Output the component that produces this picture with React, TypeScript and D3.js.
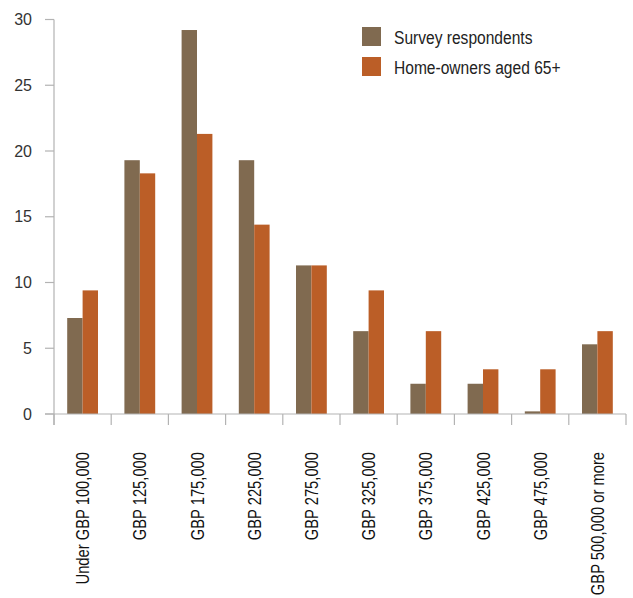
import React from "react";
import * as d3 from "d3";

// Property value bands and the share (%) of each group falling in them
const categories = [
  "Under GBP 100,000",
  "GBP 125,000",
  "GBP 175,000",
  "GBP 225,000",
  "GBP 275,000",
  "GBP 325,000",
  "GBP 375,000",
  "GBP 425,000",
  "GBP 475,000",
  "GBP 500,000 or more",
];
const surveyRespondents = [7.3, 19.3, 29.2, 19.3, 11.3, 6.3, 2.3, 2.3, 0.2, 5.3];
const homeOwners65 = [9.4, 18.3, 21.3, 14.4, 11.3, 9.4, 6.3, 3.4, 3.4, 6.3];
const seriesNames = ["Survey respondents", "Home-owners aged 65+"];
const yTicks = [0, 5, 10, 15, 20, 25, 30];

const W = 633;
const H = 598;
const colors = ["#806a50", "#bb5e27"];
const axisColor = "#b3b3b3";
const sans = "'Liberation Sans', Arial, sans-serif";
// horizontal squeeze giving a condensed grotesque look
const squeeze = 0.82;

export default function App() {
  const x = d3.scaleBand<string>().domain(categories).range([54, 626]).padding(0);
  const y = d3.scaleLinear().domain([0, 30]).range([414, 19.5]);
  const barW = 15.4;
  const series = [surveyRespondents, homeOwners65];

  return (
    <svg
      width={W}
      height={H}
      style={{ position: "absolute", left: 0, top: 0, background: "#fff" }}
    >
      {/* y axis */}
      <line x1={54} x2={54} y1={y(30)} y2={425} stroke={axisColor} strokeWidth={1.2} />
      {yTicks.map((t) => (
        <g key={t}>
          <line x1={45} x2={54} y1={y(t)} y2={y(t)} stroke={axisColor} strokeWidth={1.2} />
          <text
            x={32}
            y={y(t)}
            textAnchor="end"
            dominantBaseline="central"
            fontFamily={sans}
            fontSize={16}
            fill="#333"
          >
            {t}
          </text>
        </g>
      ))}

      {/* bars */}
      {categories.map((c, i) => {
        const cx = (x(c) as number) + x.bandwidth() / 2;
        return series.map((s, k) => (
          <rect
            key={c + k}
            x={cx - barW + k * barW}
            y={y(s[i])}
            width={barW}
            height={y(0) - y(s[i])}
            fill={colors[k]}
          />
        ));
      })}

      {/* x axis */}
      <line x1={45} x2={626} y1={414} y2={414} stroke={axisColor} strokeWidth={1.2} />
      {categories.concat([""]).map((c, i) => {
        const xx = i < categories.length ? (x(c) as number) : 626;
        return (
          <line key={"t" + i} x1={xx} x2={xx} y1={414} y2={425} stroke={axisColor} strokeWidth={1.2} />
        );
      })}
      {categories.map((c) => {
        const cx = (x(c) as number) + x.bandwidth() / 2;
        return (
          <text
            key={"l" + c}
            transform={`translate(${cx},452) rotate(-90) scale(${squeeze},1)`}
            textAnchor="end"
            dominantBaseline="central"
            fontFamily={sans}
            fontSize={18}
            fill="#111"
          >
            {c}
          </text>
        );
      })}

      {/* legend */}
      {seriesNames.map((n, k) => (
        <g key={n} transform={`translate(362,${27 + k * 30})`}>
          <rect width={19} height={19} fill={colors[k]} />
          <text
            transform={`translate(32,10.5) scale(${squeeze},1)`}
            dominantBaseline="central"
            fontFamily={sans}
            fontSize={19}
            fill="#222"
          >
            {n}
          </text>
        </g>
      ))}
    </svg>
  );
}
